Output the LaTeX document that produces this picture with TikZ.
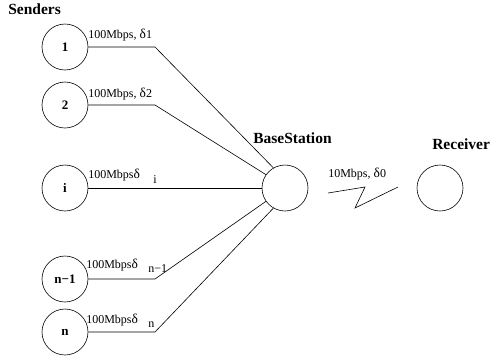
\documentclass[tikz,border=0pt]{standalone}
\usepackage{fontspec}
\setmainfont{Liberation Serif}
\usetikzlibrary{calc}
\newcommand{\dlt}{{\fontsize{13.5}{13.5}\selectfont δ}}

\begin{document}
\begin{tikzpicture}[x=1pt,y=-1pt,line width=.6pt,
  host/.style={circle,draw,minimum size=46pt,inner sep=0pt,font=\bfseries\fontsize{13}{13}\selectfont},
  rate/.style={anchor=base west,inner sep=0pt,font=\fontsize{12}{12}\selectfont},
  title/.style={anchor=base west,inner sep=0pt,font=\bfseries\fontsize{15.5}{15.5}\selectfont}]
\useasboundingbox (0,0) rectangle (490,360);
% senders
\node[title] (snd) at (8,14) {Senders};
\node[host] (s1) at (65,47) {1};
\node[host] (s2) at (65,105) {2};
\node[host] (si) at (65,188) {i};
\node[host] (sm) at (65,279) {n−1};
\node[host] (sn) at (65,332) {n};
% base station and receiver
\node[host] (bs) at (285,188) {};
\node[title] (bsl) at (253,143) {BaseStation};
\node[host] (rc) at (440,188) {};
\node[title] (rcl) at (432,149) {Receiver};
% links
\coordinate (k1) at (155,47);
\coordinate (k2) at (155,105);
\coordinate (km) at (155,279);
\coordinate (kn) at (155,332);
\draw (s1) -- (k1) -- (bs.120);
\draw (s2) -- (k2) -- (bs.145);
\draw (si) -- (bs);
\draw (sm) -- (km) -- (bs.215);
\draw (sn) -- (kn) -- (bs.240);
\node[rate] (r1) at (88,38) {100Mbps, \dlt1};
\node[rate] (r2) at (88,97) {100Mbps, \dlt2};
\node[rate] (ri) at (88,178) {100Mbps\dlt};
\node[rate] (rix) at (153,183) {i};
\node[rate] (rm) at (86,268) {100Mbps\dlt};
\node[rate] (rmx) at (148,272) {n−1};
\node[rate] (rn) at (86,323) {100Mbps\dlt};
\node[rate] (rnx) at (148,327) {n};
% wireless hop
\coordinate (z0) at (328,193);
\coordinate (z1) at (365,187);
\coordinate (z2) at (355,208);
\coordinate (z3) at (398,187);
\draw (z0) -- (z1) -- (z2) -- (z3);
\node[rate] (r0) at (328,177) {10Mbps, \dlt0};
\end{tikzpicture}
\end{document}
